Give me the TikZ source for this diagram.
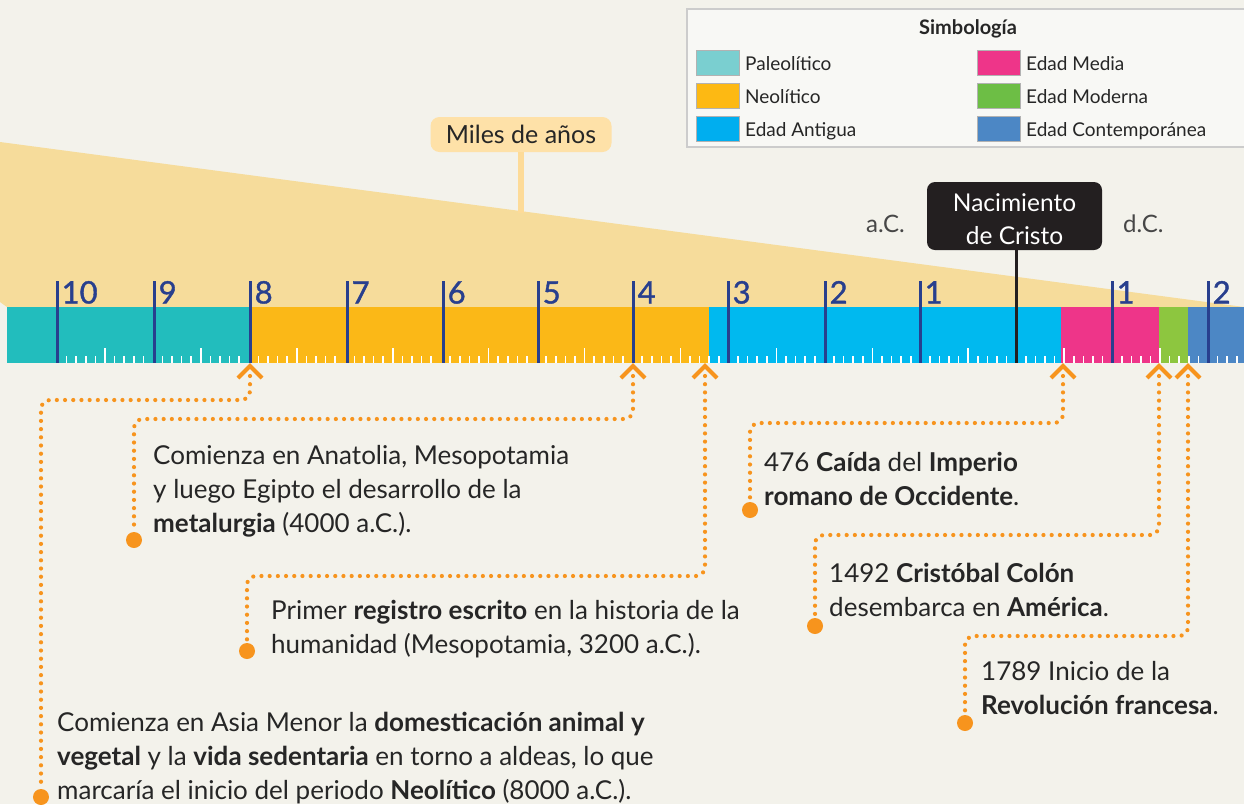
\documentclass[tikz,border=0pt]{standalone}
\usepackage{fontspec}
\setmainfont{Lato}
\newfontfamily\numfont{Lato}[FakeBold=1.2]
\definecolor{bgc}{HTML}{F3F2EB}
\definecolor{beige}{HTML}{F6DC9B}
\definecolor{peach}{HTML}{FEE1A8}
\definecolor{stemc}{HTML}{FDDB98}
\definecolor{paleo}{HTML}{22BDBD}
\definecolor{neo}{HTML}{FBB817}
\definecolor{antig}{HTML}{00B9EF}
\definecolor{media}{HTML}{EE3589}
\definecolor{moder}{HTML}{8DC63F}
\definecolor{contem}{HTML}{4C87C5}
\definecolor{paleoL}{HTML}{7ACFD0}
\definecolor{neoL}{HTML}{FDB913}
\definecolor{antigL}{HTML}{00AEEF}
\definecolor{moderL}{HTML}{6DBE45}
\definecolor{tickblue}{HTML}{283F8E}
\definecolor{orng}{HTML}{F7941D}
\definecolor{ink}{HTML}{262626}
\definecolor{boxblack}{HTML}{231F20}
\definecolor{legfill}{HTML}{F8F8F5}
\definecolor{legline}{HTML}{CCCCCC}
\tikzset{
  majortick/.style={draw=tickblue, line width=3pt},
  minortick/.style={draw=white, line width=1.6pt},
  num/.style={text=tickblue, font=\numfont\fontsize{31}{31}\selectfont, anchor=base west, inner sep=0pt},
  chev/.style={draw=orng, line width=4pt, miter limit=10},
  conn/.style={draw=orng, line width=4.2pt, line cap=round, dash pattern=on 0pt off 8.2pt, rounded corners=9pt},
  enddot/.style={circle, fill=orng, minimum size=16pt, inner sep=0pt},
  body/.style={text=ink, font=\fontsize{26}{34}\selectfont, align=left, anchor=base west, inner sep=0pt},
  swatch/.style={draw=gray!60, line width=1pt, minimum width=43pt, minimum height=25pt, inner sep=0pt},
  leglabel/.style={text=ink, font=\fontsize{19}{19}\selectfont, anchor=base west, inner sep=0pt},
  side/.style={text=ink!85, font=\fontsize{24}{24}\selectfont, inner sep=0pt},
}
\begin{document}
\begin{tikzpicture}[x=1pt,y=-1pt]
\useasboundingbox (0,0) rectangle (1244,804);
\fill[bgc] (0,0) rectangle (1244,804);
% wedge
\fill[beige] (0,142) -- (1244,307) -- (7,307) -- (0,302) -- cycle;
% Miles de anos
\node[fill=peach, rounded corners=9pt, minimum width=181pt, minimum height=35pt, inner sep=0pt, text=ink, font=\fontsize{25}{25}\selectfont] (miles) at (521,134.5) {Miles de años};
\coordinate (stemend) at (521,213);
\draw[stemc, line width=6pt] (miles.south) -- (stemend);
% legend
\node[fill=legfill, draw=legline, line width=1.2pt, minimum width=570pt, minimum height=138pt, inner sep=0pt] (leg) at (972,78) {};
\node[text=ink, font=\bfseries\fontsize{20}{20}\selectfont, anchor=base, inner sep=0pt] (legtitle) at (968,34) {Simbología};
\node[swatch, fill=paleoL] (sw1) at (717.5,62.5) {};
\node[swatch, fill=neoL] (sw2) at (717.5,95.5) {};
\node[swatch, fill=antigL] (sw3) at (717.5,128.5) {};
\node[swatch, fill=media] (sw4) at (998.5,62.5) {};
\node[swatch, fill=moderL] (sw5) at (998.5,95.5) {};
\node[swatch, fill=contem] (sw6) at (998.5,128.5) {};
\node[leglabel] (lb1) at (745,70) {Paleolítico};
\node[leglabel] (lb2) at (745,103) {Neolítico};
\node[leglabel] (lb3) at (745,136) {Edad Antigua};
\node[leglabel] (lb4) at (1026,70) {Edad Media};
\node[leglabel] (lb5) at (1026,103) {Edad Moderna};
\node[leglabel] (lb6) at (1026,136) {Edad Contemporánea};
% bar
\fill[paleo] (7,307) rectangle (249.5,363);
\fill[neo] (249.5,307) rectangle (709,363);
\fill[antig] (709,307) rectangle (1061,363);
\fill[media] (1061,307) rectangle (1159,363);
\fill[moder] (1159,307) rectangle (1188,363);
\fill[contem] (1188,307) rectangle (1244,363);
% minor ticks
\foreach \k in {1,...,123}{
  \pgfmathtruncatemacro{\m}{mod(\k,10)}
  \pgfmathsetmacro{\xx}{57+9.592*\k}
  \ifnum\m=0\relax\else
    \ifnum\m=5\relax
      \draw[minortick] (\xx,348) -- (\xx,363);
    \else
      \draw[minortick] (\xx,356) -- (\xx,363);
    \fi
  \fi
}
% major ticks and labels
\foreach \i/\x/\l in {1/57/10,2/154/9,3/250/8,4/347/7,5/443/6,6/538/5,7/633/4,8/728/3,9/825/2,10/920/1,11/1112/1,12/1208/2}{
  \draw[majortick] (\x,281) -- (\x,363);
  \node[num] (n\i) at (\x+4.5,303.5) {\l};
}
% Nacimiento de Cristo
\node[fill=boxblack, rounded corners=8pt, minimum width=175pt, minimum height=68pt, inner sep=0pt, text=white, align=center, font=\fontsize{24.5}{33}\selectfont] (naci) at (1014.5,216) {\rule{0pt}{25pt}Nacimiento\\de Cristo};
\coordinate (cb) at (1016,363);
\draw[boxblack, line width=3pt] (naci.south -| cb) -- (cb);
\node[side, anchor=base east] (ac) at (905,232) {a.C.};
\node[side, anchor=base west] (dc) at (1123,232) {d.C.};
% connectors
\foreach \i/\x/\hy/\dx/\dy in {1/250/400/41/797, 2/633/419/134/540, 3/705/576/247/651, 4/1063/423/750/510, 5/1159/535/815/626, 6/1188/636/965/723}{
  \coordinate (a\i) at (\x,366);
  \coordinate (s\i) at (\x,376);
  \coordinate (k\i) at (\dx,\hy);
  \node[enddot] (d\i) at (\dx,\dy) {};
  \draw[conn] (s\i) |- (k\i) -- (d\i.north);
  \draw[chev] ([shift={(-12,12)}]a\i) -- (a\i) -- ([shift={(12,12)}]a\i);
}
% texts (anchor = baseline of last line)
\node[body] (t2) at (153,532) {Comienza en Anatolia, Mesopotamia\\y luego Egipto el desarrollo de la\\\textbf{metalurgia} (4000 a.C.).};
\node[body] (t3) at (271,653) {Primer \textbf{registro escrito} en la historia de la\\humanidad (Mesopotamia, 3200 a.C.).};
\node[body] (t1) at (57,799) {Comienza en Asia Menor la \textbf{domesticación animal y}\\\textbf{vegetal} y la \textbf{vida sedentaria} en torno a aldeas, lo que\\marcaría el inicio del periodo \textbf{Neolítico} (8000 a.C.).};
\node[body] (t4) at (764,505) {476 \textbf{Caída} del \textbf{Imperio}\\\textbf{romano de Occidente}.};
\node[body] (t5) at (829,616) {1492 \textbf{Cristóbal Colón}\\desembarca en \textbf{América}.};
\node[body] (t6) at (981,714) {1789 Inicio de la\\\textbf{Revolución francesa}.};
\end{tikzpicture}
\end{document}
